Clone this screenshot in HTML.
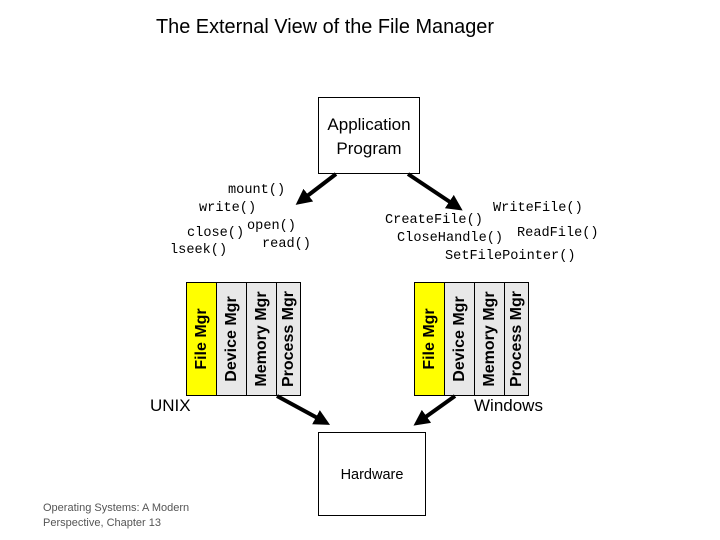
<!DOCTYPE html>
<html><head><style>
body{margin:0;width:720px;height:540px;background:#fff;position:relative;overflow:hidden;font-family:"Liberation Sans",sans-serif}
.a{position:absolute;white-space:nowrap}
.m{font-family:"Liberation Mono",monospace;font-size:13.6px;color:#000}
.col{position:absolute;top:282px;height:114px;border:1px solid #000;box-sizing:border-box;background:#e8e8e8}
.col span{position:absolute;left:50%;top:50%;transform:translate(-50%,-50%) rotate(-90deg);font-weight:bold;font-size:16px;white-space:nowrap}
</style></head><body>
<div class="a" style="left:156px;top:16px;font-size:19.9px">The External View of the File Manager</div>
<div class="a" style="left:318px;top:97px;width:102px;height:77px;border:1px solid #000;box-sizing:border-box;text-align:center;font-size:17px;line-height:24px;padding-top:15px">Application<br>Program</div>
<div class="a" style="left:318px;top:432px;width:108px;height:84px;border:1px solid #000;box-sizing:border-box;text-align:center;font-size:14.5px;line-height:84px">Hardware</div>
<div class="a m" style="left:228px;top:183px">mount()</div>
<div class="a m" style="left:199px;top:201px">write()</div>
<div class="a m" style="left:187px;top:226px">close()</div>
<div class="a m" style="left:247px;top:219px">open()</div>
<div class="a m" style="left:262px;top:237px">read()</div>
<div class="a m" style="left:170px;top:243px">lseek()</div>
<div class="a m" style="left:493px;top:201px">WriteFile()</div>
<div class="a m" style="left:385px;top:213px">CreateFile()</div>
<div class="a m" style="left:397px;top:231px">CloseHandle()</div>
<div class="a m" style="left:517px;top:226px">ReadFile()</div>
<div class="a m" style="left:445px;top:249px">SetFilePointer()</div>
<div class="col" style="left:186px;width:31px;background:#ffff00"><span>File Mgr</span></div>
<div class="col" style="left:216px;width:31px"><span>Device Mgr</span></div>
<div class="col" style="left:246px;width:31px"><span>Memory Mgr</span></div>
<div class="col" style="left:276px;width:25px"><span>Process Mgr</span></div>
<div class="col" style="left:414px;width:31px;background:#ffff00"><span>File Mgr</span></div>
<div class="col" style="left:444px;width:31px"><span>Device Mgr</span></div>
<div class="col" style="left:474px;width:31px"><span>Memory Mgr</span></div>
<div class="col" style="left:504px;width:25px"><span>Process Mgr</span></div>
<div class="a" style="left:150px;top:396px;font-size:17px">UNIX</div>
<div class="a" style="left:474px;top:396px;font-size:17px">Windows</div>
<div class="a" style="left:43px;top:501px;font-size:11px;color:#555;line-height:15px">Operating Systems: A Modern<br>Perspective, Chapter 13</div>
<svg class="a" style="left:0;top:0" width="720" height="540">
<defs><marker id="h" markerWidth="4" markerHeight="4" refX="2" refY="2" orient="auto"><path d="M0,0L4,2L0,4z" fill="#000"/></marker></defs>
<g stroke="#000" stroke-width="4" marker-end="url(#h)">
<line x1="336" y1="174" x2="302" y2="200"/>
<line x1="408" y1="174" x2="456" y2="206"/>
<line x1="277" y1="396" x2="323" y2="421"/>
<line x1="455" y1="396" x2="420" y2="421"/>
</g></svg>
</body></html>
